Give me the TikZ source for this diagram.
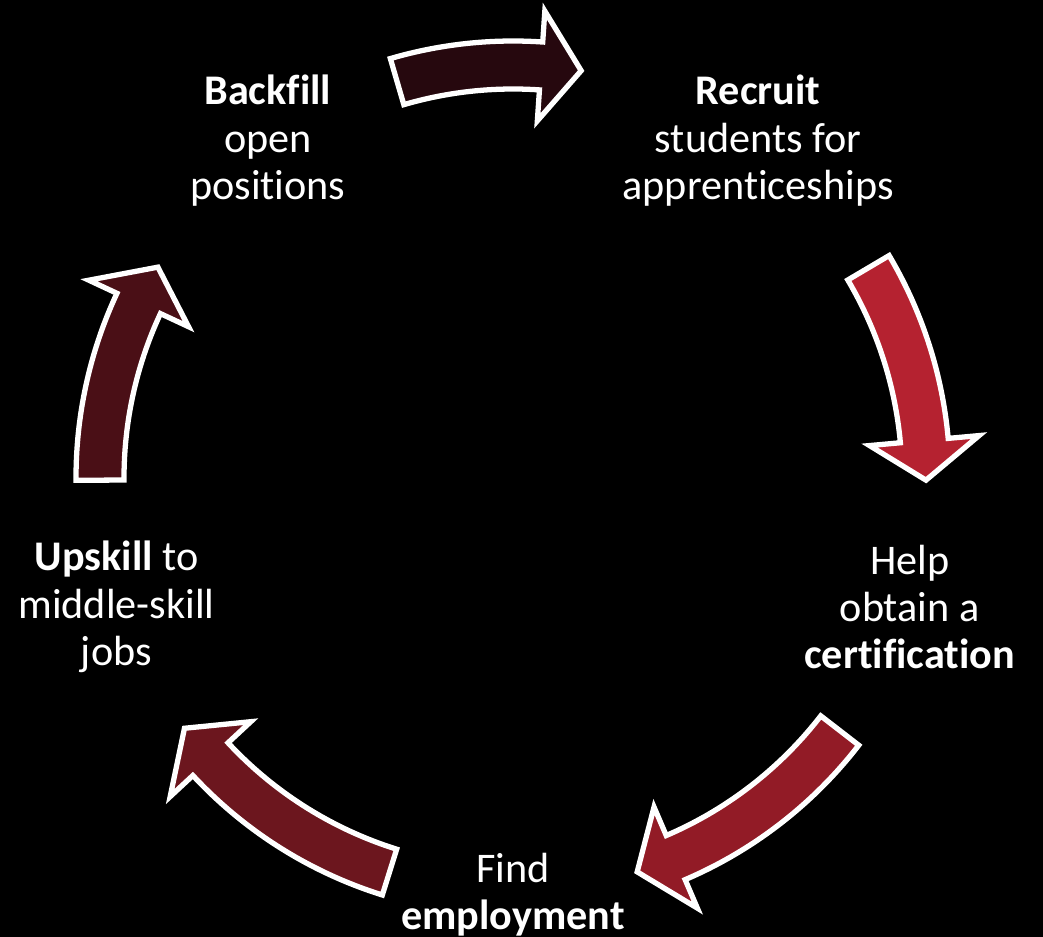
\documentclass[tikz,border=0pt]{standalone}
\usepackage{fontspec}
\setmainfont{Carlito}[Ligatures=NoCommon]
\usetikzlibrary{calc}
\definecolor{arrowTop}{RGB}{38,8,14}
\definecolor{arrowRight}{RGB}{181,34,48}
\definecolor{arrowLowRight}{RGB}{146,27,38}
\definecolor{arrowLowLeft}{RGB}{108,22,30}
\definecolor{arrowLeft}{RGB}{74,15,22}
\tikzset{
	every node/.style={
		align=center,
	},
	stage/.style={text=white, font=\fontsize{12}{13.4}\selectfont},
	cycle arrow/.style={draw=white, line width=1.5pt, line join=miter},
}

\begin{document}
\begin{tikzpicture}[x=0.01cm, y=0.01cm]
		\fill[black] (-513,-459) rectangle (530,478);
		\useasboundingbox (-513,-459) rectangle (530,478);
		\coordinate (o) at (0,0);
		
		\node[stage] (backfill) at (126:417) {\textbf{Backfill}\\ open\\ positions};
		\node[stage] (recruit) at (54:417) {\textbf{Recruit}\\ students for\\ apprenticeships};
		\node[stage] (certify) at (-18:417) {Help\\ obtain a\\ \textbf{certification}};
		\node[stage] (employ) at (-90:417) {Find\\ \textbf{employment}};
		\node[stage] (upskill) at (198:417) {\textbf{Upskill} to\\ middle-skill\\ jobs};
		
		% curved block arrows, clockwise round (o)
		\draw[cycle arrow, fill=arrowTop] (106.3:437) arc[start angle=106.3, end angle=86.1, radius=437] -- (86.1:468) -- (80.5:413) -- (86.1:358) -- (86.1:389) arc[start angle=86.1, end angle=106.3, radius=389] -- cycle;
		\draw[cycle arrow, fill=arrowRight] (30.6:437) arc[start angle=30.6, end angle=5.2, radius=437] -- (5.2:468) -- (-0.3:413) -- (5.2:358) -- (5.2:389) arc[start angle=5.2, end angle=30.6, radius=389] -- cycle;
		\draw[cycle arrow, fill=arrowLowRight] (-37.7:437) arc[start angle=-37.7, end angle=-66.8, radius=437] -- (-66.8:468) -- (-72.5:413) -- (-66.8:358) -- (-66.8:389) arc[start angle=-66.8, end angle=-37.7, radius=389] -- cycle;
		\draw[cycle arrow, fill=arrowLowLeft] (-107.4:437) arc[start angle=-107.4, end angle=-137.1, radius=437] -- (-137.1:468) -- (-142.7:413) -- (-137.1:358) -- (-137.1:389) arc[start angle=-137.1, end angle=-107.4, radius=389] -- cycle;
		\draw[cycle arrow, fill=arrowLeft] (180.3:437) arc[start angle=180.3, end angle=155, radius=437] -- (155:468) -- (149.3:413) -- (155:358) -- (155:389) arc[start angle=155, end angle=180.3, radius=389] -- cycle;
		
	\end{tikzpicture}
\end{document}
